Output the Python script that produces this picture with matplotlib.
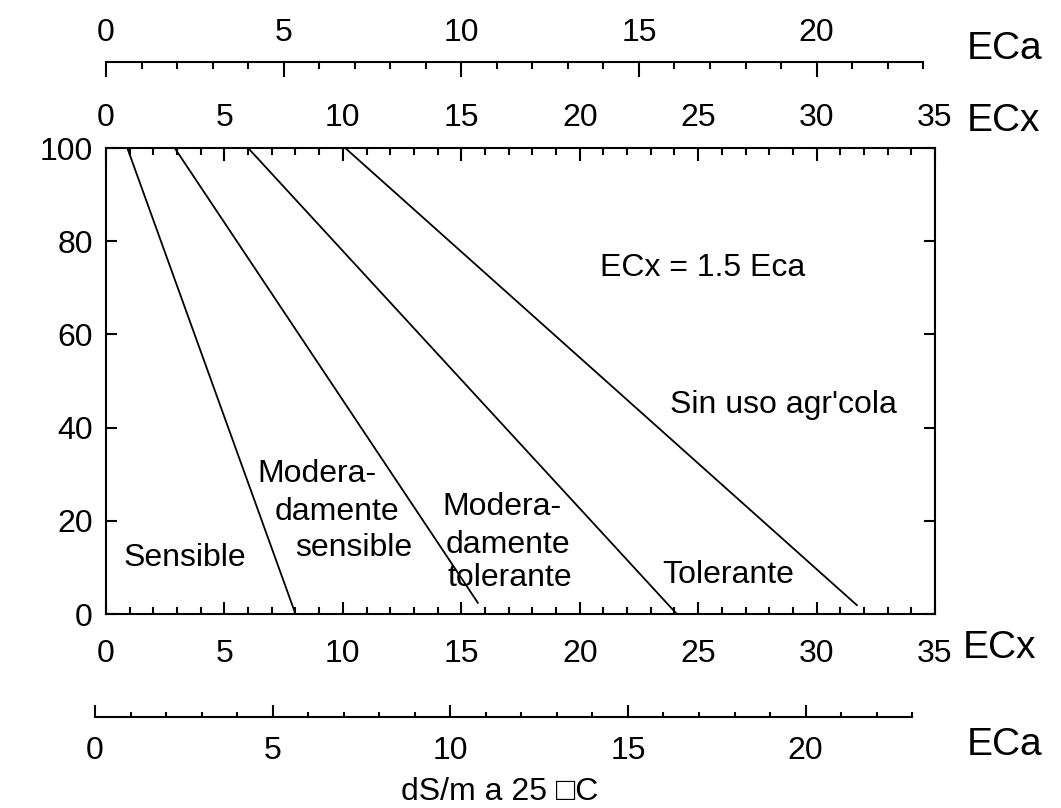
import matplotlib
matplotlib.use("Agg")
import matplotlib.pyplot as plt
from matplotlib.ticker import MultipleLocator

plt.rcParams['font.family'] = ['Liberation Sans', 'DejaVu Sans']

# rendimiento (%) frente a conductividad del extracto de saturación (ECx)
sensible_x = [0.9, 8.0]
sensible_y = [100, 0]
mod_sensible_x = [2.9, 15.7]
mod_sensible_y = [100, 2.4]
mod_tolerante_x = [6.0, 24.1]
mod_tolerante_y = [100, 0]
tolerante_x = [10.1, 31.7]
tolerante_y = [100, 1.9]

ecx_max = 35
eca_max = ecx_max / 1.5
eca_end = 23
y_ticks = [0, 20, 40, 60, 80, 100]
ecx_ticks = [0, 5, 10, 15, 20, 25, 30, 35]
eca_ticks = [0, 5, 10, 15, 20]

W, H = 1061, 808


def box(l, t, r, b):
    return [l / W, 1 - b / H, (r - l) / W, (b - t) / H]


def fxy(px, py):
    return px / W, 1 - py / H


fig = plt.figure(figsize=(W / 100, H / 100), dpi=100)
fig.patch.set_facecolor('white')

FS = 23
TS = 23
lw = 1.5

ax = fig.add_axes(box(106, 148, 935, 614))
for x, y in [(sensible_x, sensible_y), (mod_sensible_x, mod_sensible_y),
             (mod_tolerante_x, mod_tolerante_y), (tolerante_x, tolerante_y)]:
    ax.plot(x, y, color='black', lw=1.3)

ax.set_xlim(0, ecx_max)
ax.set_ylim(0, 100)
ax.set_xticks(ecx_ticks)
ax.set_yticks(y_ticks)
ax.xaxis.set_minor_locator(MultipleLocator(1))
for s in ax.spines.values():
    s.set_linewidth(lw)
ax.tick_params(axis='x', which='major', direction='in', length=9, width=lw,
               labelsize=FS, pad=18)
ax.tick_params(axis='x', which='minor', direction='in', length=5, width=lw)
ax.tick_params(axis='y', direction='in', right=True, length=8, width=lw,
               labelsize=FS, pad=9.5)

# ECx también arriba, con las etiquetas más cerca del borde
sec = ax.secondary_xaxis('top')
sec.spines['top'].set_visible(False)
sec.set_xticks(ecx_ticks)
sec.xaxis.set_minor_locator(MultipleLocator(1))
sec.tick_params(axis='x', which='major', direction='in', length=9, width=lw,
                labelsize=FS, pad=10.5)
sec.tick_params(axis='x', which='minor', direction='in', length=5, width=lw)

ax.text(20.85, 74.2, 'ECx = 1.5 Eca', fontsize=TS, va='center', ha='left')
ax.text(23.8, 44.85, "Sin uso agr'cola", fontsize=TS, va='center', ha='left')
ax.text(23.47, 8.37, 'Tolerante', fontsize=TS, va='center', ha='left')
ax.text(14.2, 22.96, 'Modera-', fontsize=TS, va='center', ha='left')
ax.text(14.35, 14.8, 'damente', fontsize=TS, va='center', ha='left')
ax.text(14.4, 7.7, 'tolerante', fontsize=TS, va='center', ha='left')
ax.text(6.37, 30.0, 'Modera-', fontsize=TS, va='center', ha='left')
ax.text(7.13, 21.9, 'damente', fontsize=TS, va='center', ha='left')
ax.text(7.98, 14.2, 'sensible', fontsize=TS, va='center', ha='left')
ax.text(0.76, 12.0, 'Sensible', fontsize=TS, va='center', ha='left')

# escala ECa superior
ax_ta = fig.add_axes(box(106, 62, 935, 72))
ax_ta.patch.set_visible(False)
for k in ['left', 'right', 'bottom']:
    ax_ta.spines[k].set_visible(False)
ax_ta.spines['top'].set_linewidth(lw)
ax_ta.spines['top'].set_bounds(0, eca_end)
ax_ta.set_xlim(0, eca_max)
ax_ta.set_yticks([])
ax_ta.set_xticks(eca_ticks)
ax_ta.set_xticks([v for v in range(0, eca_end + 1) if v % 5], minor=True)
ax_ta.xaxis.tick_top()
ax_ta.tick_params(axis='x', which='major', direction='in', length=11, width=lw,
                  labelsize=FS, pad=10)
ax_ta.tick_params(axis='x', which='minor', direction='in', length=5, width=lw)

# escala ECa inferior
ax_ba = fig.add_axes(box(95, 707, 924, 717))
ax_ba.patch.set_visible(False)
for k in ['left', 'right', 'top']:
    ax_ba.spines[k].set_visible(False)
ax_ba.spines['bottom'].set_linewidth(lw)
ax_ba.spines['bottom'].set_bounds(0, eca_end)
ax_ba.set_xlim(0, eca_max)
ax_ba.set_yticks([])
ax_ba.set_xticks(eca_ticks)
ax_ba.set_xticks([v for v in range(0, eca_end + 1) if v % 5], minor=True)
ax_ba.tick_params(axis='x', which='major', direction='in', length=8.5, width=lw,
                  labelsize=FS, pad=14)
ax_ba.tick_params(axis='x', which='minor', direction='in', length=3.6, width=lw)

fig.text(*fxy(967, 49), 'ECa', fontsize=28, va='center', ha='left')
fig.text(*fxy(967, 121), 'ECx', fontsize=28, va='center', ha='left')
fig.text(*fxy(963, 648), 'ECx', fontsize=28, va='center', ha='left')
fig.text(*fxy(967, 745), 'ECa', fontsize=28, va='center', ha='left')
fig.text(*fxy(500, 792), 'dS/m a 25 \u25a1C', fontsize=TS, va='center', ha='center')

fig.savefig('out.png', dpi=100, facecolor='white')
